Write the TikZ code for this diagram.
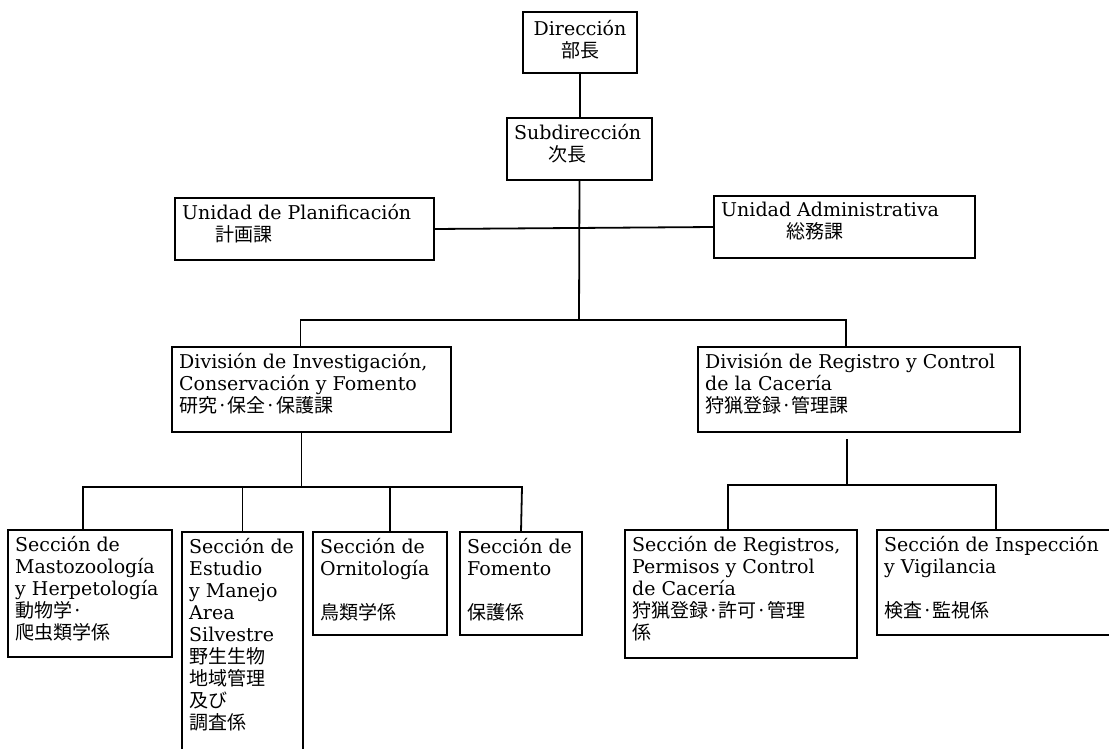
\documentclass[tikz,border=0pt]{standalone}
\usepackage{fontspec}
\setmainfont{DejaVu Serif}
\newfontfamily\jp{Noto Sans CJK JP}
\newcommand\orgbox[6]{%
  \node[box, minimum width={(#4-#2)*1pt}, minimum height={(#5-#3)*1pt}] (#1) at ({(#2+#4)/2},{(#3+#5)/2}) {};
  \node[txt] (#1-t) at ([xshift=7pt,yshift=-6pt]#1.north west) {#6};}
\begin{document}
\begin{tikzpicture}[x=1pt,y=-1pt,
  box/.style={draw, line width=1.8pt, inner sep=0pt, outer sep=0pt},
  txt/.style={anchor=north west, align=left, inner sep=0pt, font=\fontsize{19}{22}\selectfont},
  ctxt/.style={anchor=north, align=center, inner sep=0pt, font=\fontsize{19}{22}\selectfont},
  ln/.style={line width=1.8pt}]
\useasboundingbox (0,0) rectangle (1109,749);
\fill[white] (0,0) rectangle (1109,749);

% top
\node[box, minimum width=114pt, minimum height=61pt] (dir) at (580,42.5) {};
\node[ctxt] (dir-t) at ([yshift=-8pt]dir.north) {Dirección\\{\jp 部長}};
\orgbox{sub}{507}{118}{652}{180}{Subdirección\\\hspace*{34pt}{\jp 次長}}
\orgbox{plan}{175}{198}{434}{260}{Unidad de Planificación\\\hspace*{33pt}{\jp 計画課}}
\orgbox{adm}{714}{196}{975}{258}{Unidad Administrativa\\\hspace*{65pt}{\jp 総務課}}

% divisions
\orgbox{inv}{172}{347}{451}{432}{División de Investigación,\\Conservación y Fomento\\{\jp 研究·保全·保護課}}
\orgbox{reg}{698}{347}{1020}{432}{División de Registro y Control\\de la Cacería\\{\jp 狩猟登録·管理課}}

% sections
\orgbox{mas}{8}{530}{172}{657}{Sección de\\Mastozoología\\y Herpetología\\{\jp 動物学·}\\{\jp 爬虫類学係}}
\orgbox{est}{182}{532}{303}{760}{Sección de\\Estudio\\y Manejo\\Area\\Silvestre\\{\jp 野生生物}\\{\jp 地域管理}\\{\jp 及び}\\{\jp 調査係}}
\orgbox{orn}{313}{532}{447}{635}{Sección de\\Ornitología\\\mbox{}\\{\jp 鳥類学係}}
\orgbox{fom}{460}{532}{582}{635}{Sección de\\Fomento\\\mbox{}\\{\jp 保護係}}
\orgbox{rgs}{625}{530}{857}{658}{Sección de Registros,\\Permisos y Control\\de Cacería\\{\jp 狩猟登録·許可·管理}\\{\jp 係}}
\orgbox{ins}{877}{530}{1120}{635}{Sección de Inspección\\y Vigilancia\\\mbox{}\\{\jp 検査·監視係}}

% connectors
\coordinate (j1) at (579,320);
\coordinate (bL) at (83,487);
\coordinate (bR) at (522,487);
\coordinate (cL) at (728,485);
\coordinate (cR) at (996,485);

\draw[ln] (dir.south) -- (dir.south |- sub.north);
\draw[ln] (plan.east) -- (adm.west);
\draw[ln] (sub.south) -- (j1);
\draw[ln] ([xshift=-11pt]inv.north) |- (j1) -| ([xshift=-13pt]reg.north);

\draw[ln] ([xshift=-10pt]inv.south) -- ([xshift=-10pt]inv.south |- bL);
\draw[ln] (bL |- mas.north) -- (bL) -- (bR) -- (fom.north);
\draw[ln] (est.north) -- (est.north |- bL);
\draw[ln] ([xshift=10pt]orn.north) -- ([xshift=10pt]orn.north |- bL);

\draw[ln] ([xshift=-12pt,yshift=-7pt]reg.south) -- ([xshift=-12pt]reg.south |- cL);
\draw[ln] (cL |- rgs.north) -- (cL) -- (cR) -- (cR |- ins.north);
\end{tikzpicture}
\end{document}
